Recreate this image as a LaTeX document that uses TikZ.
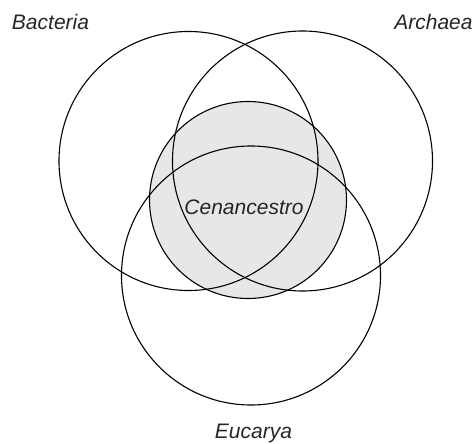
\documentclass[tikz,border=0pt]{standalone}
\usepackage{fontspec}
\setmainfont{Liberation Sans}
\begin{document}
\begin{tikzpicture}[x=1pt,y=-1pt,
  ring/.style={circle,draw=black,line width=1.1pt,inner sep=0pt},
  lbl/.style={font=\fontsize{21}{25}\selectfont\itshape,inner sep=0pt,text=black!85}]
\useasboundingbox (0,0) rectangle (474,444);
\node[ring,fill={rgb,255:red,230;green,231;blue,233},minimum size=197pt] (cen) at (248,200) {};
\node[ring,minimum size=259pt] (bac) at (188.5,161) {};
\node[ring,minimum size=260pt] (arc) at (302.5,161) {};
\node[ring,minimum size=259pt] (euc) at (251,275.5) {};
\node[lbl] (tbac) at (50.5,22) {Bacteria};
\node[lbl] (tarc) at (433.5,22) {Archaea};
\node[lbl] (tcen) at (244,207) {Cenancestro};
\node[lbl] (teuc) at (253.5,433) {Eucarya};
\end{tikzpicture}
\end{document}
